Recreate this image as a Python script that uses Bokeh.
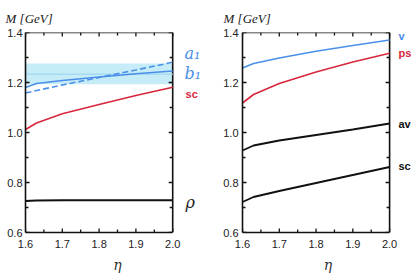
from bokeh.plotting import figure
from bokeh.models import Label, LinearAxis, FixedTicker, PrintfTickFormatter, Range1d
from bokeh.layouts import row
from bokeh.embed import file_html
from bokeh.resources import INLINE

# ---- data ----
eta = [1.6, 1.63, 1.7, 1.8, 1.9, 2.0]
band_eta = [1.6, 2.0]
band_lo = [1.193, 1.193]
band_hi = [1.276, 1.276]
band_mid = [1.233, 1.233]

left_dashed = [1.158, 1.168, 1.190, 1.220, 1.250, 1.281]
left_solid = [1.180, 1.196, 1.208, 1.222, 1.235, 1.246]
left_sc = [1.012, 1.038, 1.075, 1.112, 1.148, 1.181]
left_rho = [0.726, 0.728, 0.729, 0.729, 0.729, 0.729]

right_v = [1.258, 1.276, 1.298, 1.325, 1.348, 1.370]
right_ps = [1.118, 1.152, 1.196, 1.242, 1.282, 1.317]
right_av = [0.928, 0.948, 0.968, 0.990, 1.012, 1.036]
right_sc = [0.722, 0.742, 0.766, 0.798, 0.830, 0.862]

x_ticks = [1.6, 1.7, 1.8, 1.9, 2.0]
x_minor = [1.65, 1.75, 1.85, 1.95]
y_ticks = [0.6, 0.8, 1.0, 1.2, 1.4]
y_minor = [0.7, 0.9, 1.1, 1.3]
X_MIN, X_MAX = 1.6, 2.0
Y_MIN, Y_MAX = 0.6, 1.4

BLUE = "#4a8fe8"
RED = "#d7263d"
BLACK = "#111111"
PX_X = 367.5   # pixels per eta unit
PX_Y = 250.0   # pixels per GeV


def make_fig(x_end, min_left, min_right, title_offset, ylab_standoff):
    fw = int(round((x_end - X_MIN) * PX_X))
    p = figure(frame_width=fw, frame_height=200, output_backend="svg",
               toolbar_location=None, x_range=Range1d(X_MIN, x_end),
               y_range=Range1d(Y_MIN, Y_MAX), x_axis_location=None,
               y_axis_location=None, min_border_left=min_left,
               min_border_right=min_right, min_border_top=32,
               min_border_bottom=40)
    p.grid.visible = False
    p.outline_line_color = None
    p.title.text = "M [GeV]"
    p.title.text_font = "Liberation Serif"
    p.title.text_font_style = "italic"
    p.title.text_font_size = "13px"
    p.title.text_color = "#222222"
    p.title.align = "left"
    p.title.vertical_align = "top"
    p.title.offset = title_offset
    p.title.standoff = 10

    for loc in ("below", "left"):
        ax = LinearAxis()
        ax.axis_line_color = BLACK
        ax.axis_line_width = 1.6
        ax.major_tick_in = 0
        ax.major_tick_out = 0
        ax.minor_tick_in = 0
        ax.minor_tick_out = 0
        ax.formatter = PrintfTickFormatter(format="%.1f")
        ax.major_label_text_font = "Liberation Sans"
        ax.major_label_text_font_size = "11px"
        ax.major_label_text_color = "#222222"
        if loc == "below":
            ax.ticker = FixedTicker(ticks=x_ticks, minor_ticks=x_minor)
            ax.bounds = (X_MIN, X_MAX)
            ax.major_label_standoff = 7
            ax.axis_label = "η"
            ax.axis_label_text_font = "DejaVu Serif"
            ax.axis_label_text_font_style = "italic"
            ax.axis_label_text_font_size = "14px"
            ax.axis_label_text_color = "#333333"
            ax.axis_label_standoff = 6
        else:
            ax.ticker = FixedTicker(ticks=y_ticks, minor_ticks=y_minor)
            ax.bounds = (Y_MIN, Y_MAX)
            ax.major_label_standoff = ylab_standoff
        p.add_layout(ax, loc)

    # frame box (top and right edges) and inward ticks on all sides
    p.segment(x0=[X_MIN, X_MAX], y0=[Y_MAX, Y_MIN], x1=[X_MAX, X_MAX],
              y1=[Y_MAX, Y_MAX], line_color=BLACK, line_width=1.6)
    tmaj_y, tmin_y = 4 / PX_Y, 3 / PX_Y
    tmaj_x, tmin_x = 4 / PX_X, 3 / PX_X
    for xs, ln in ((x_ticks, tmaj_y), (x_minor, tmin_y)):
        p.segment(x0=xs, y0=[Y_MIN] * len(xs), x1=xs, y1=[Y_MIN + ln] * len(xs),
                  line_color=BLACK, line_width=1.3)
        p.segment(x0=xs, y0=[Y_MAX] * len(xs), x1=xs, y1=[Y_MAX - ln] * len(xs),
                  line_color=BLACK, line_width=1.3)
    for ys, ln in ((y_ticks, tmaj_x), (y_minor, tmin_x)):
        p.segment(x0=[X_MIN] * len(ys), y0=ys, x1=[X_MIN + ln] * len(ys), y1=ys,
                  line_color=BLACK, line_width=1.3)
        p.segment(x0=[X_MAX] * len(ys), y0=ys, x1=[X_MAX - ln] * len(ys), y1=ys,
                  line_color=BLACK, line_width=1.3)
    return p


def add_label(p, x, y, text, color, font, size, style="normal"):
    p.add_layout(Label(x=x, y=y, text=text, text_color=color, text_font=font,
                       text_font_size=size, text_font_style=style,
                       text_align="left", text_baseline="alphabetic"))


# ---- left panel ----
p1 = make_fig(2.1, 25, 3, -20, 3)
p1.varea(x=band_eta, y1=band_lo, y2=band_hi, fill_color="#c6ecf8", level="underlay")
p1.line(band_eta, band_mid, line_color="#a6dbf2", line_width=1.5)
p1.line(eta, left_dashed, line_color=BLUE, line_width=1.6, line_dash="6 3")
p1.line(eta, left_solid, line_color=BLUE, line_width=1.6)
p1.line(eta, left_sc, line_color=RED, line_width=1.6)
p1.line(eta, left_rho, line_color=BLACK, line_width=1.8)
add_label(p1, 2.032, 1.318, "a₁", BLUE, "DejaVu Serif", "16px", "italic")
add_label(p1, 2.032, 1.238, "b₁", BLUE, "DejaVu Serif", "16px", "italic")
add_label(p1, 2.035, 1.156, "sc", RED, "Liberation Sans", "11px", "bold")
add_label(p1, 2.035, 0.722, "ρ", "#222222", "DejaVu Serif", "16px", "italic")

# ---- right panel ----
p2 = make_fig(2.065, 30, 0, -19, 4)
p2.line(eta, right_v, line_color=BLUE, line_width=1.6)
p2.line(eta, right_ps, line_color=RED, line_width=1.6)
p2.line(eta, right_av, line_color=BLACK, line_width=1.8)
p2.line(eta, right_sc, line_color=BLACK, line_width=1.8)
add_label(p2, 2.024, 1.385, "v", BLUE, "Liberation Sans", "11px", "bold")
add_label(p2, 2.024, 1.318, "ps", RED, "Liberation Sans", "11px", "bold")
add_label(p2, 2.024, 1.034, "av", BLACK, "Liberation Sans", "11px", "bold")
add_label(p2, 2.024, 0.868, "sc", BLACK, "Liberation Sans", "11px", "bold")

layout = row(p1, p2)
open("out.html", "w").write(file_html(layout, INLINE))
